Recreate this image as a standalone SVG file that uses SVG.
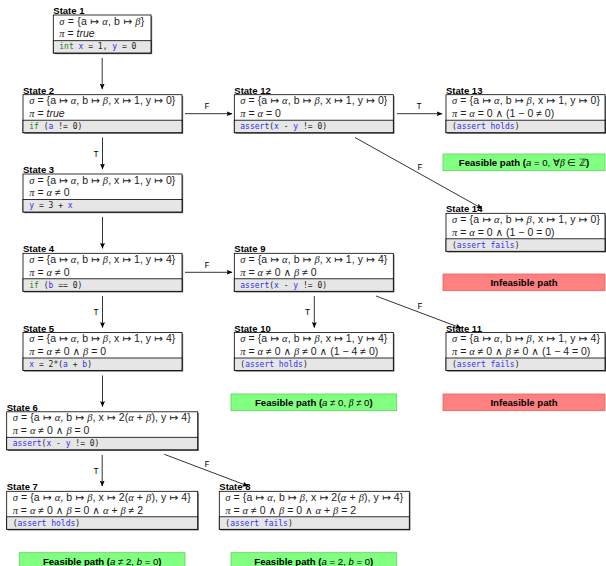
<svg xmlns="http://www.w3.org/2000/svg" width="606" height="566" viewBox="0 0 606 566">
<defs>
<marker id="ah" markerUnits="userSpaceOnUse" markerWidth="6" markerHeight="5" refX="5.5" refY="2.5" orient="auto">
<path d="M0,0 L6,2.5 L0,5 L1.2,2.5 z" fill="#000"/>
</marker>
</defs>
<style>
.t{font:bold 9.5px "Liberation Sans",Arial,sans-serif;fill:#000}
.m{font:10.5px "Liberation Sans","DejaVu Sans",sans-serif;fill:#222}
.g{font-family:"Liberation Serif","DejaVu Serif",serif;font-style:italic}
.i{font-style:italic}
.c{font:8px "DejaVu Sans Mono","Liberation Mono",monospace;fill:#222}
.kw{fill:#1f7f1f}
.id{fill:#3030ee}
.box{fill:#fff;stroke:#000;stroke-width:.8}
.sh{fill:#777}
.code{fill:#e6e6e6;stroke:#000;stroke-width:.8}
.lbl{font:8.5px "Liberation Mono","DejaVu Sans Mono",monospace;text-anchor:middle;fill:#000}
.e{stroke:#000;stroke-width:.8;fill:none;marker-end:url(#ah)}
.ok{fill:#80ff80;stroke:#5fd05f;stroke-width:.8}
.bad{fill:#ff8080;stroke:#e06060;stroke-width:.8}
.pt{font:bold 9.6px "Liberation Sans",Arial,sans-serif;text-anchor:middle;fill:#000}
.pm{font-weight:normal}
</style>

<g id="state1">
<rect class="sh" x="54.5" y="16.2" width="97.7" height="38"/>
<rect class="box" x="53.3" y="15" width="97.7" height="38"/>
<rect class="code" x="53.3" y="40.7" width="97.7" height="12.3"/>
<text class="t" x="53.3" y="14">State 1</text>
<text class="m" x="59.3" y="24.6" textLength="85"><tspan class="g">σ</tspan> = {a ↦ <tspan class="g">α</tspan>, b ↦ <tspan class="g">β</tspan>}</text>
<text class="m" x="59.3" y="37.2"><tspan class="g">π</tspan> = <tspan class="i">true</tspan></text>
<text class="c" x="59.3" y="49.4"><tspan class="kw">int</tspan> <tspan class="id">x</tspan> = 1, <tspan class="id">y</tspan> = 0</text>
</g>

<g id="state2">
<rect class="sh" x="24.2" y="95.9" width="159" height="38"/>
<rect class="box" x="23" y="94.7" width="159" height="38"/>
<rect class="code" x="23" y="120.2" width="159" height="12.5"/>
<text class="t" x="23" y="93.7">State 2</text>
<text class="m" x="29.3" y="104.3" textLength="146"><tspan class="g">σ</tspan> = {a ↦ <tspan class="g">α</tspan>, b ↦ <tspan class="g">β</tspan>, x ↦ 1, y ↦ 0}</text>
<text class="m" x="29.3" y="117"><tspan class="g">π</tspan> = <tspan class="i">true</tspan></text>
<text class="c" x="29.3" y="129"><tspan class="kw">if</tspan> (<tspan class="id">a</tspan> != 0)</text>
</g>

<g id="state3">
<rect class="sh" x="24.2" y="175.2" width="159" height="38"/>
<rect class="box" x="23" y="174" width="159" height="38"/>
<rect class="code" x="23" y="199.5" width="159" height="12.5"/>
<text class="t" x="23" y="173">State 3</text>
<text class="m" x="29.3" y="183.6" textLength="146"><tspan class="g">σ</tspan> = {a ↦ <tspan class="g">α</tspan>, b ↦ <tspan class="g">β</tspan>, x ↦ 1, y ↦ 0}</text>
<text class="m" x="29.3" y="196.3"><tspan class="g">π</tspan> = <tspan class="g">α</tspan> ≠ 0</text>
<text class="c" x="29.3" y="208.3"><tspan class="id">y</tspan> = 3 + <tspan class="id">x</tspan></text>
</g>

<g id="state4">
<rect class="sh" x="24.2" y="254.5" width="159" height="38"/>
<rect class="box" x="23" y="253.3" width="159" height="38"/>
<rect class="code" x="23" y="278.8" width="159" height="12.5"/>
<text class="t" x="23" y="252.3">State 4</text>
<text class="m" x="29.3" y="262.9" textLength="146"><tspan class="g">σ</tspan> = {a ↦ <tspan class="g">α</tspan>, b ↦ <tspan class="g">β</tspan>, x ↦ 1, y ↦ 4}</text>
<text class="m" x="29.3" y="275.6"><tspan class="g">π</tspan> = <tspan class="g">α</tspan> ≠ 0</text>
<text class="c" x="29.3" y="287.6"><tspan class="kw">if</tspan> (<tspan class="id">b</tspan> == 0)</text>
</g>

<g id="state5">
<rect class="sh" x="24.2" y="333.7" width="159" height="38"/>
<rect class="box" x="23" y="332.5" width="159" height="38"/>
<rect class="code" x="23" y="358" width="159" height="12.5"/>
<text class="t" x="23" y="331.5">State 5</text>
<text class="m" x="29.3" y="342.1" textLength="146"><tspan class="g">σ</tspan> = {a ↦ <tspan class="g">α</tspan>, b ↦ <tspan class="g">β</tspan>, x ↦ 1, y ↦ 4}</text>
<text class="m" x="29.3" y="354.8"><tspan class="g">π</tspan> = <tspan class="g">α</tspan> ≠ 0 ∧ <tspan class="g">β</tspan> = 0</text>
<text class="c" x="29.3" y="366.8"><tspan class="id">x</tspan> = 2*(<tspan class="id">a</tspan> + <tspan class="id">b</tspan>)</text>
</g>

<g id="state6">
<rect class="sh" x="7.9" y="413" width="191" height="38"/>
<rect class="box" x="6.7" y="411.8" width="191" height="38"/>
<rect class="code" x="6.7" y="437.3" width="191" height="12.5"/>
<text class="t" x="6.7" y="410.8">State 6</text>
<text class="m" x="12.7" y="421.4" textLength="178"><tspan class="g">σ</tspan> = {a ↦ <tspan class="g">α</tspan>, b ↦ <tspan class="g">β</tspan>, x ↦ 2(<tspan class="g">α</tspan> + <tspan class="g">β</tspan>), y ↦ 4}</text>
<text class="m" x="12.7" y="434.1"><tspan class="g">π</tspan> = <tspan class="g">α</tspan> ≠ 0 ∧ <tspan class="g">β</tspan> = 0</text>
<text class="c" x="12.7" y="446.1"><tspan class="id">assert</tspan>(<tspan class="id">x</tspan> - <tspan class="id">y</tspan> != 0)</text>
</g>

<g id="state7">
<rect class="sh" x="7.9" y="492.5" width="191" height="38"/>
<rect class="box" x="6.7" y="491.3" width="191" height="38"/>
<rect class="code" x="6.7" y="516.8" width="191" height="12.5"/>
<text class="t" x="6.7" y="490.3">State 7</text>
<text class="m" x="12.7" y="500.9" textLength="178"><tspan class="g">σ</tspan> = {a ↦ <tspan class="g">α</tspan>, b ↦ <tspan class="g">β</tspan>, x ↦ 2(<tspan class="g">α</tspan> + <tspan class="g">β</tspan>), y ↦ 4}</text>
<text class="m" x="12.7" y="513.6"><tspan class="g">π</tspan> = <tspan class="g">α</tspan> ≠ 0 ∧ <tspan class="g">β</tspan> = 0 ∧ <tspan class="g">α</tspan> + <tspan class="g">β</tspan> ≠ 2</text>
<text class="c" x="12.7" y="525.6">(<tspan class="id">assert holds</tspan>)</text>
</g>

<g id="state8">
<rect class="sh" x="220.5" y="492.5" width="190" height="38"/>
<rect class="box" x="219.3" y="491.3" width="190" height="38"/>
<rect class="code" x="219.3" y="516.8" width="190" height="12.5"/>
<text class="t" x="219.3" y="490.3">State 8</text>
<text class="m" x="225.3" y="500.9" textLength="178"><tspan class="g">σ</tspan> = {a ↦ <tspan class="g">α</tspan>, b ↦ <tspan class="g">β</tspan>, x ↦ 2(<tspan class="g">α</tspan> + <tspan class="g">β</tspan>), y ↦ 4}</text>
<text class="m" x="225.3" y="513.6"><tspan class="g">π</tspan> = <tspan class="g">α</tspan> ≠ 0 ∧ <tspan class="g">β</tspan> = 0 ∧ <tspan class="g">α</tspan> + <tspan class="g">β</tspan> = 2</text>
<text class="c" x="225.3" y="525.6">(<tspan class="id">assert fails</tspan>)</text>
</g>

<g id="state9">
<rect class="sh" x="235.5" y="254.5" width="159" height="38"/>
<rect class="box" x="234.3" y="253.3" width="159" height="38"/>
<rect class="code" x="234.3" y="278.8" width="159" height="12.5"/>
<text class="t" x="234.3" y="252.3">State 9</text>
<text class="m" x="240.3" y="262.9" textLength="147"><tspan class="g">σ</tspan> = {a ↦ <tspan class="g">α</tspan>, b ↦ <tspan class="g">β</tspan>, x ↦ 1, y ↦ 4}</text>
<text class="m" x="240.3" y="275.6"><tspan class="g">π</tspan> = <tspan class="g">α</tspan> ≠ 0 ∧ <tspan class="g">β</tspan> ≠ 0</text>
<text class="c" x="240.3" y="287.6"><tspan class="id">assert</tspan>(<tspan class="id">x</tspan> - <tspan class="id">y</tspan> != 0)</text>
</g>

<g id="state10">
<rect class="sh" x="235.5" y="333.7" width="159" height="38"/>
<rect class="box" x="234.3" y="332.5" width="159" height="38"/>
<rect class="code" x="234.3" y="358" width="159" height="12.5"/>
<text class="t" x="234.3" y="331.5">State 10</text>
<text class="m" x="240.3" y="342.1" textLength="147"><tspan class="g">σ</tspan> = {a ↦ <tspan class="g">α</tspan>, b ↦ <tspan class="g">β</tspan>, x ↦ 1, y ↦ 4}</text>
<text class="m" x="240.3" y="354.8"><tspan class="g">π</tspan> = <tspan class="g">α</tspan> ≠ 0 ∧ <tspan class="g">β</tspan> ≠ 0 ∧ (1 − 4 ≠ 0)</text>
<text class="c" x="240.3" y="366.8">(<tspan class="id">assert holds</tspan>)</text>
</g>

<g id="state11">
<rect class="sh" x="447.2" y="333.7" width="159" height="38"/>
<rect class="box" x="446" y="332.5" width="159" height="38"/>
<rect class="code" x="446" y="358" width="159" height="12.5"/>
<text class="t" x="446" y="331.5">State 11</text>
<text class="m" x="452" y="342.1" textLength="148"><tspan class="g">σ</tspan> = {a ↦ <tspan class="g">α</tspan>, b ↦ <tspan class="g">β</tspan>, x ↦ 1, y ↦ 4}</text>
<text class="m" x="452" y="354.8"><tspan class="g">π</tspan> = <tspan class="g">α</tspan> ≠ 0 ∧ <tspan class="g">β</tspan> ≠ 0 ∧ (1 − 4 = 0)</text>
<text class="c" x="452" y="366.8">(<tspan class="id">assert fails</tspan>)</text>
</g>

<g id="state12">
<rect class="sh" x="235.5" y="95.9" width="159" height="38"/>
<rect class="box" x="234.3" y="94.7" width="159" height="38"/>
<rect class="code" x="234.3" y="120.2" width="159" height="12.5"/>
<text class="t" x="234.3" y="93.7">State 12</text>
<text class="m" x="240.3" y="104.3" textLength="147"><tspan class="g">σ</tspan> = {a ↦ <tspan class="g">α</tspan>, b ↦ <tspan class="g">β</tspan>, x ↦ 1, y ↦ 0}</text>
<text class="m" x="240.3" y="117"><tspan class="g">π</tspan> = <tspan class="g">α</tspan> = 0</text>
<text class="c" x="240.3" y="129"><tspan class="id">assert</tspan>(<tspan class="id">x</tspan> - <tspan class="id">y</tspan> != 0)</text>
</g>

<g id="state13">
<rect class="sh" x="447.2" y="95.9" width="159" height="38"/>
<rect class="box" x="446" y="94.7" width="159" height="38"/>
<rect class="code" x="446" y="120.2" width="159" height="12.5"/>
<text class="t" x="446" y="93.7">State 13</text>
<text class="m" x="452" y="104.3" textLength="148"><tspan class="g">σ</tspan> = {a ↦ <tspan class="g">α</tspan>, b ↦ <tspan class="g">β</tspan>, x ↦ 1, y ↦ 0}</text>
<text class="m" x="452" y="117"><tspan class="g">π</tspan> = <tspan class="g">α</tspan> = 0 ∧ (1 − 0 ≠ 0)</text>
<text class="c" x="452" y="129">(<tspan class="id">assert holds</tspan>)</text>
</g>

<g id="state14">
<rect class="sh" x="447.2" y="214.5" width="159" height="38"/>
<rect class="box" x="446" y="213.3" width="159" height="38"/>
<rect class="code" x="446" y="238.8" width="159" height="12.5"/>
<text class="t" x="446" y="212.3">State 14</text>
<text class="m" x="452" y="222.9" textLength="148"><tspan class="g">σ</tspan> = {a ↦ <tspan class="g">α</tspan>, b ↦ <tspan class="g">β</tspan>, x ↦ 1, y ↦ 0}</text>
<text class="m" x="452" y="235.6"><tspan class="g">π</tspan> = <tspan class="g">α</tspan> = 0 ∧ (1 − 0 = 0)</text>
<text class="c" x="452" y="247.6">(<tspan class="id">assert fails</tspan>)</text>
</g>

<g id="result13">
<rect class="ok" x="443" y="154" width="162" height="16.7"/>
<text class="pt" x="524" y="165.8">Feasible path (<tspan class="pm"><tspan class="i">a</tspan> = 0, ∀<tspan class="g">β</tspan> ∈ ℤ</tspan>)</text>
</g>
<g id="result14">
<rect class="bad" x="443" y="274" width="162" height="16.7"/>
<text class="pt" x="524" y="285.8">Infeasible path</text>
</g>
<g id="result10">
<rect class="ok" x="231" y="394" width="165.7" height="16.7"/>
<text class="pt" x="313.8" y="405.8">Feasible path (<tspan class="pm"><tspan class="i">a</tspan> ≠ 0, <tspan class="g">β</tspan> ≠ 0</tspan>)</text>
</g>
<g id="result11">
<rect class="bad" x="443" y="394" width="162" height="16.7"/>
<text class="pt" x="524" y="405.8">Infeasible path</text>
</g>
<g id="result7">
<rect class="ok" x="19.3" y="552.7" width="165.7" height="16.7"/>
<text class="pt" x="102.2" y="564.5">Feasible path (<tspan class="pm"><tspan class="i">a</tspan> ≠ 2, <tspan class="i">b</tspan> = 0</tspan>)</text>
</g>
<g id="result8">
<rect class="ok" x="231" y="552.7" width="165.7" height="16.7"/>
<text class="pt" x="313.8" y="564.5">Feasible path (<tspan class="pm"><tspan class="i">a</tspan> = 2, <tspan class="i">b</tspan> = 0</tspan>)</text>
</g>

<g id="connectors">
<line class="e" x1="102.2" y1="58" x2="102.2" y2="89"/>
<line class="e" x1="102.5" y1="137.5" x2="102.5" y2="169"/>
<line class="e" x1="102.5" y1="217" x2="102.5" y2="248.3"/>
<line class="e" x1="102.5" y1="296" x2="102.5" y2="327.5"/>
<line class="e" x1="102.5" y1="375.5" x2="102.5" y2="406.5"/>
<line class="e" x1="102.2" y1="455" x2="102.2" y2="486"/>
<line class="e" x1="185" y1="113.7" x2="232" y2="113.7"/>
<line class="e" x1="397" y1="113.7" x2="442" y2="113.7"/>
<line class="e" x1="355" y1="137.5" x2="482" y2="208.5"/>
<line class="e" x1="185" y1="272.3" x2="232" y2="272.3"/>
<line class="e" x1="314.3" y1="296" x2="314.3" y2="327.5"/>
<line class="e" x1="376" y1="296" x2="461" y2="328"/>
<line class="e" x1="164.3" y1="454.3" x2="248" y2="486"/>
<text class="lbl" x="96" y="157">T</text>
<text class="lbl" x="96" y="314.7">T</text>
<text class="lbl" x="96" y="474">T</text>
<text class="lbl" x="307.5" y="314.7">T</text>
<text class="lbl" x="419" y="109">T</text>
<text class="lbl" x="207" y="109">F</text>
<text class="lbl" x="207" y="268">F</text>
<text class="lbl" x="420" y="170">F</text>
<text class="lbl" x="420" y="309">F</text>
<text class="lbl" x="207" y="467">F</text>
</g>
</svg>
